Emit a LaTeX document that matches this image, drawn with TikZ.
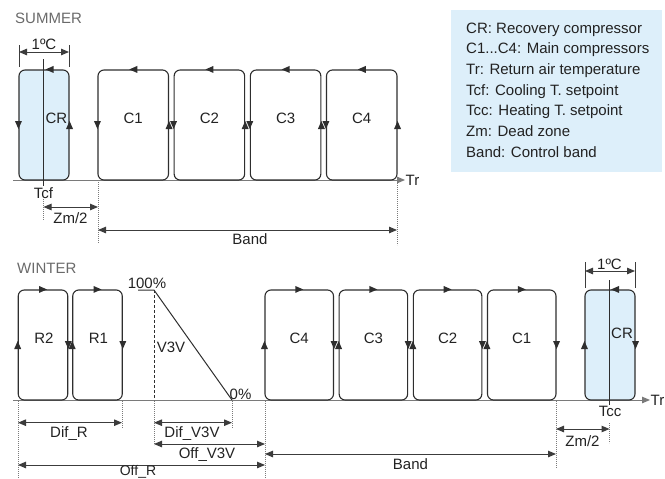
\documentclass[tikz,border=0pt]{standalone}
\usepackage{fontspec}
\setmainfont{Liberation Sans}
\usetikzlibrary{arrows.meta}
\definecolor{lblue}{HTML}{DDEFFA}
\definecolor{dark}{HTML}{2E2E2E}
\definecolor{axisg}{HTML}{7A7A7A}
\definecolor{dimg}{HTML}{3C3C3C}
\definecolor{titleg}{HTML}{6A6A6A}
\definecolor{txtc}{HTML}{222222}
\tikzset{
  box/.style={draw=dark, line width=1.1pt, rounded corners=6pt, minimum height=110pt, inner sep=0pt},
  sbox/.style={box, minimum width=70.5pt},
  wbox/.style={box, minimum width=68.5pt},
  crbox/.style={box, minimum width=50pt, fill=lblue},
  rbox/.style={box, minimum width=49.5pt},
  txt/.style={font=\fontsize{15}{18}\selectfont, text=txtc, inner sep=0pt},
  ttl/.style={txt, text=titleg, anchor=west},
  axisline/.style={draw=axisg, line width=1pt, -{Triangle[length=8pt,width=6.5pt]}},
  dim/.style={draw=dimg, line width=1pt, {Triangle[length=8pt,width=6.5pt]}-{Triangle[length=8pt,width=6.5pt]}},
  tick/.style={draw=dimg, line width=0.8pt},
  dotl/.style={draw=axisg, line width=0.9pt, dash pattern=on 0.8pt off 1.2pt},
  setl/.style={draw=dark, line width=0.9pt},
  tipl/.pic={\fill[dark] (-4,0) -- (4,-3.5) -- (4,3.5) -- cycle;},
  tipr/.pic={\fill[dark] (4,0) -- (-4,-3.5) -- (-4,3.5) -- cycle;},
  tipu/.pic={\fill[dark] (0,-4) -- (-3.5,4) -- (3.5,4) -- cycle;},
  tipd/.pic={\fill[dark] (0,4) -- (-3.5,-4) -- (3.5,-4) -- cycle;}
}
\begin{document}
\begin{tikzpicture}[x=1pt,y=-1pt]
\useasboundingbox (0,0) rectangle (665,479);

% ================= SUMMER =================
\node[ttl] (summer) at (15,18) {SUMMER};

\coordinate (sax0) at (13,180);
\node[txt, anchor=west] (str) at (405.5,180.5) {Tr};
\draw[axisline] (sax0) -- ([xshift=-0.5pt]str.west |- sax0);

\node[crbox] (scr) at (44,125) {};
\node[sbox] (sc1) at (133.25,125) {};
\node[sbox] (sc2) at (209.4,125) {};
\node[sbox] (sc3) at (285.6,125) {};
\node[sbox] (sc4) at (361.75,125) {};
\node[txt] (scrt) at (56.5,118) {CR};
\node[txt] (sc1t) at (133.25,118) {C1};
\node[txt] (sc2t) at (209.4,118) {C2};
\node[txt] (sc3t) at (285.6,118) {C3};
\node[txt] (sc4t) at (361.75,118) {C4};

\pic at ([xshift=5.5pt]scr.north) {tipl};
\pic at (scr.west) {tipd};
\pic at (scr.east) {tipu};
\foreach \b in {sc1,sc2,sc3,sc4}{
  \pic at (\b.north) {tipl};
  \pic at (\b.west) {tipd};
  \pic at (\b.east) {tipu};
}

% Tcf setpoint line
\coordinate (tcftop) at (43.5,59);
\node[txt] (tcf) at (43.5,193) {Tcf};
\draw[setl] (tcftop) -- ([yshift=1pt]tcf.north);
\draw[dotl] (43.5,199) -- (43.5,220);

% 1ºC summer
\coordinate (s1a) at (19,45);
\coordinate (s1b) at (69,45);
\draw[tick] (s1a) -- (s1a |- 0,67);
\draw[tick] (s1b) -- (s1b |- 0,67);
\coordinate (s1da) at (19,52);
\coordinate (s1db) at (69,52);
\draw[dim] (s1da) -- (s1db);
\node[txt] (s1c) at (44,44.5) {1ºC};

% Zm/2 summer
\coordinate (szA) at (43.5,207);
\coordinate (szB) at (98,207);
\draw[dim] (szA) -- (szB);
\node[txt] (szt) at (70.5,218) {Zm/2};

% Band summer
\coordinate (sbd0) at (98,182);
\coordinate (sbd1) at (98,243);
\draw[dotl] (sbd0) -- (sbd1);
\coordinate (sbe0) at (397,183);
\coordinate (sbe1) at (397,245);
\draw[dotl] (sbe0) -- (sbe1);
\coordinate (sbA) at (98,230);
\coordinate (sbB) at (397,230);
\draw[dim] (sbA) -- (sbB);
\node[txt] (sbt) at (250,239.5) {Band};

% Legend
\node[fill=lblue, minimum width=211pt, minimum height=162pt, inner sep=0pt, anchor=north west] (legbox) at (451,10) {};
\node[txt, anchor=north west, align=left, font=\fontsize{15}{20.7}\selectfont] (legend) at (466,22.5)
 {CR: Recovery compressor\\C1...C4: Main compressors\\Tr: Return air temperature\\Tcf: Cooling T. setpoint\\Tcc: Heating T. setpoint\\Zm: Dead zone\\Band: Control band};

% ================= WINTER =================
\node[ttl] (winter) at (17,268) {WINTER};

\coordinate (wax0) at (13,400);
\node[txt, anchor=west] (wtr) at (650.5,400.5) {Tr};
\draw[axisline] (wax0) -- ([xshift=-0.5pt]wtr.west |- wax0);

\node[rbox] (wr2) at (43,345) {};
\node[rbox] (wr1) at (97.5,345) {};
\node[wbox] (wc4) at (299.25,345) {};
\node[wbox] (wc3) at (373.4,345) {};
\node[wbox] (wc2) at (447.6,345) {};
\node[wbox] (wc1) at (521.75,345) {};
\node[crbox] (wcr) at (610,345) {};
\node[txt] (wr2t) at (44,338) {R2};
\node[txt] (wr1t) at (98.5,338) {R1};
\node[txt] (wc4t) at (299.25,338) {C4};
\node[txt] (wc3t) at (373.4,338) {C3};
\node[txt] (wc2t) at (447.6,338) {C2};
\node[txt] (wc1t) at (521.75,338) {C1};
\node[txt] (wcrt) at (622,333.5) {CR};

\foreach \b in {wr2,wr1,wc4,wc3,wc2,wc1}{
  \pic at (\b.north) {tipr};
  \pic at (\b.west) {tipu};
  \pic at (\b.east) {tipd};
}
\pic at ([xshift=5pt]wcr.north) {tipl};
\pic at (wcr.west) {tipu};
\pic at (wcr.east) {tipd};

% V3V ramp
\coordinate (v0) at (138,290);
\coordinate (v1) at (154,290);
\coordinate (v2) at (232,400);
\draw[draw=dark, line width=1pt] (v0) -- (v1) -- (v2);
\draw[draw=dark, line width=0.9pt, dash pattern=on 3pt off 2pt] (v1) -- (v1 |- wax0);
\node[txt] (v100) at (147,283.5) {100\%};
\node[txt] (v3v) at (171,347) {V3V};
\node[txt] (v0p) at (240.5,394) {0\%};

% Tcc setpoint line
\coordinate (tcctop) at (609.5,280);
\node[txt] (tcc) at (610,411.5) {Tcc};
\draw[setl] (tcctop) -- ([yshift=1pt]tcc.north -| tcctop);
\draw[dotl] (609.5,423) -- (609.5,443);

% 1ºC winter
\coordinate (w1a) at (585,262);
\coordinate (w1b) at (635,262);
\draw[tick] (w1a) -- (w1a |- 0,288);
\draw[tick] (w1b) -- (w1b |- 0,288);
\coordinate (w1da) at (585,271);
\coordinate (w1db) at (635,271);
\draw[dim] (w1da) -- (w1db);
\node[txt] (w1c) at (609.5,264) {1ºC};

% dotted reference lines winter
\draw[dotl] (18,401) -- (18,479);
\draw[dotl] (122,401) -- (122,428);
\draw[dotl] (154,401) -- (154,445);
\draw[dotl] (232,401) -- (232,428);
\draw[dotl] (265,401) -- (265,479);
\draw[dotl] (556,401) -- (556,468);

% dimensions winter
\coordinate (drA) at (18,422.7);
\coordinate (drB) at (122,422.7);
\draw[dim] (drA) -- (drB);
\node[txt] (drt) at (69,433.5) {Dif\_R};

\coordinate (dvA) at (154,422.7);
\coordinate (dvB) at (232,422.7);
\draw[dim] (dvA) -- (dvB);
\node[txt] (dvt) at (192,433.5) {Dif\_V3V};

\coordinate (ovA) at (154,444);
\coordinate (ovB) at (265,444);
\draw[dim] (ovA) -- (ovB);
\node[txt] (ovt) at (207,455) {Off\_V3V};

\coordinate (orA) at (18,465);
\coordinate (orB) at (265,465);
\draw[dim] (orA) -- (orB);
\node[txt, anchor=south, font=\fontsize{14}{16}\selectfont] (ort) at (138,478.6) {Off\_R};

\coordinate (wbA) at (265,454);
\coordinate (wbB) at (556,454);
\draw[dim] (wbA) -- (wbB);
\node[txt] (wbt) at (410.5,464) {Band};

\coordinate (wzA) at (556,429);
\coordinate (wzB) at (609.5,429);
\draw[dim] (wzA) -- (wzB);
\node[txt] (wzt) at (582.5,441) {Zm/2};

\end{tikzpicture}
\end{document}
